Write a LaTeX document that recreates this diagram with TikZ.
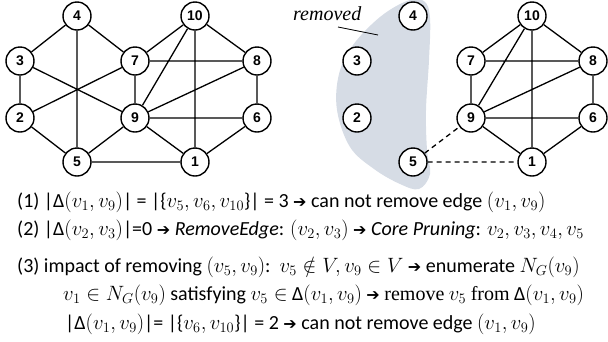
\documentclass[tikz,border=0pt]{standalone}
\usepackage{fontspec}
\setmainfont{Carlito}
\newfontfamily\nodefont{Liberation Sans}
\newfontfamily\arrfont{DejaVu Sans}
\newfontfamily\rmserif{Liberation Serif}
\newcommand{\arr}{{\arrfont\fontsize{16}{16}\selectfont ➔}}
\definecolor{blobcol}{HTML}{D6DCE5}
\begin{document}
\begin{tikzpicture}[x=1pt,y=-1pt,
  vtx/.style={circle,draw,line width=1.4pt,fill=white,minimum size=28pt,inner sep=0pt,
    font=\nodefont\bfseries\fontsize{14}{14}\selectfont},
  edge/.style={line width=1.3pt},
  dedge/.style={line width=1.3pt,dash pattern=on 5pt off 4pt},
  txt/.style={anchor=base west,inner sep=0pt,font=\fontsize{20}{24}\selectfont}]
\useasboundingbox (0,0) rectangle (608,341);
% blob
\fill[blobcol] plot[smooth cycle,tension=0.6] coordinates
 {(407,1) (424,1) (430,18) (429,60) (426,110) (427,150) (430,174) (419,189) (400,184) (374,169) (350,147) (337,110) (339,74) (353,45) (380,17)};
\node[anchor=base west,inner sep=0pt,font=\rmserif\itshape\fontsize{20}{20}\selectfont] (rem) at (293,20) {removed};
\coordinate (remA) at (338,27);
\coordinate (remB) at (378,35);
\draw[line width=0.8pt] (remA) -- (remB);
% left graph
\node[vtx] (a4) at (77,16) {4};
\node[vtx] (a3) at (20,61) {3};
\node[vtx] (a7) at (135,61) {7};
\node[vtx] (a2) at (20,118) {2};
\node[vtx] (a9) at (135,118) {9};
\node[vtx] (a5) at (77,162) {5};
\node[vtx] (a10) at (195,16) {10};
\node[vtx] (a8) at (257,61) {8};
\node[vtx] (a6) at (257,118) {6};
\node[vtx] (a1) at (195,162) {1};
\draw[edge] (a4)--(a3) (a4)--(a7) (a4)--(a5) (a3)--(a2) (a3)--(a9) (a2)--(a7) (a2)--(a5)
 (a7)--(a9) (a9)--(a5) (a9)--(a1) (a5)--(a1) (a10)--(a7) (a10)--(a9) (a10)--(a1)
 (a10)--(a8) (a7)--(a8) (a9)--(a8) (a9)--(a6) (a8)--(a6) (a6)--(a1);
% right graph
\node[vtx] (b4) at (413,16) {4};
\node[vtx] (b3) at (357,61) {3};
\node[vtx] (b2) at (357,118) {2};
\node[vtx] (b5) at (413,162) {5};
\node[vtx] (b10) at (532,16) {10};
\node[vtx] (b7) at (471,61) {7};
\node[vtx] (b8) at (593,61) {8};
\node[vtx] (b9) at (471,118) {9};
\node[vtx] (b6) at (593,118) {6};
\node[vtx] (b1) at (532,162) {1};
\draw[edge] (b10)--(b7) (b10)--(b8) (b10)--(b9) (b10)--(b1) (b7)--(b8) (b7)--(b9)
 (b9)--(b8) (b9)--(b6) (b9)--(b1) (b8)--(b6) (b6)--(b1);
\draw[dedge] (b5)--(b9) (b5)--(b1);
% text
\node[txt] (t1) at (17,207) {(1) |Δ$(v_1, v_9)$| = |\{$v_5, v_6, v_{10}$\}| = 3 \arr{} can not remove edge $(v_1, v_9)$};
\node[txt] (t2) at (17,235) {(2) |Δ$(v_2, v_3)$|=0 \arr{} \textit{RemoveEdge}: $(v_2, v_3)$ \arr{} \textit{Core Pruning}: $v_2, v_3, v_4, v_5$};
\node[txt] (t3) at (17,272) {(3) impact of removing $(v_5, v_9)$:\ \ $v_5 \notin V, v_9 \in V$\ \arr{} enumerate $N_G(v_9)$};
\node[txt] (t4) at (63,300) {$v_1 \in N_G(v_9)$ satisfying $v_5 \in$ Δ$(v_1, v_9)$ \arr{} {\rmserif remove} $v_5$ {\rmserif from} Δ$(v_1, v_9)$};
\node[txt] (t5) at (65,329) {|Δ$(v_1, v_9)$|= |\{$v_6, v_{10}$\}| = 2 \arr{} can not remove edge $(v_1, v_9)$};
\end{tikzpicture}
\end{document}
